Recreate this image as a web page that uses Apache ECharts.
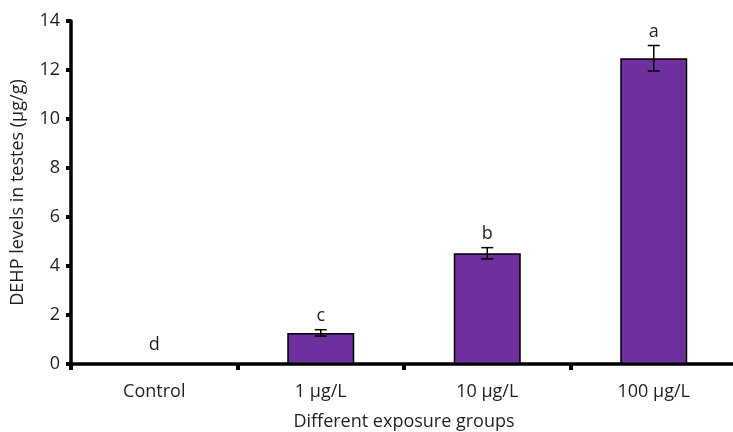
<!DOCTYPE html>
<html><head><meta charset="utf-8">
<script src="https://cdn.jsdelivr.net/npm/echarts@6/dist/echarts.min.js"></script>
<style>html,body{margin:0;padding:0;background:#fff}#c{width:733px;height:432px}</style>
</head><body><div id="c"></div>
<script>
var categories = ['Control', '1 µg/L', '10 µg/L', '100 µg/L'];
var means = [0, 1.27, 4.52, 12.48];
var errors = [0, 0.13, 0.23, 0.52];
var letters = ['d', 'c', 'b', 'a'];
var yTicks = {min: 0, max: 14, interval: 2};

var chart = echarts.init(document.getElementById('c'));
var font = '"Open Sans", "Noto Sans", sans-serif';
var fs = 18;
chart.setOption({
  animation: false,
  grid: {left: 71, top: 21, width: 666, height: 343, outerBoundsMode: 'none', containLabel: false},
  xAxis: {
    type: 'category', data: categories,
    name: 'Different exposure groups', nameLocation: 'middle', nameGap: 49,
    nameTextStyle: {color: '#231f20', fontSize: fs, fontFamily: font},
    axisLine: {lineStyle: {color: '#000', width: 3.5}},
    axisTick: {show: true, length: 6, lineStyle: {color: '#000', width: 4}},
    axisLabel: {color: '#231f20', fontSize: fs, fontFamily: font, margin: 19}
  },
  yAxis: {
    type: 'value', min: yTicks.min, max: yTicks.max, interval: yTicks.interval,
    name: 'DEHP levels in testes (µg/g)', nameLocation: 'middle', nameGap: 44,
    nameTextStyle: {color: '#231f20', fontSize: fs, fontFamily: font},
    splitLine: {show: false},
    axisLine: {show: true, lineStyle: {color: '#000', width: 3.5}},
    axisTick: {show: true, length: 5, lineStyle: {color: '#000', width: 4}},
    axisLabel: {color: '#231f20', fontSize: fs, fontFamily: font, margin: 11}
  },
  series: [{
    type: 'bar', data: means, barWidth: 67,
    itemStyle: {color: '#6f2f9c', borderColor: '#000', borderWidth: 1.5}
  }, {
    type: 'custom', z: 5,
    data: means.map(function (m, i) { return [i, m, errors[i]]; }),
    renderItem: function (params, api) {
      var i = api.value(0), m = api.value(1), e = api.value(2);
      var top = api.coord([i, m + e]);
      var bot = api.coord([i, m - e]);
      var half = 6;
      var children = [];
      if (e > 0) {
        children.push(
          {type: 'line', shape: {x1: top[0], y1: top[1], x2: bot[0], y2: bot[1]}, style: {stroke: '#000', lineWidth: 1.5}},
          {type: 'line', shape: {x1: top[0] - half, y1: top[1], x2: top[0] + half, y2: top[1]}, style: {stroke: '#000', lineWidth: 1.5}},
          {type: 'line', shape: {x1: bot[0] - half, y1: bot[1], x2: bot[0] + half, y2: bot[1]}, style: {stroke: '#000', lineWidth: 1.5}}
        );
      }
      children.push({type: 'text', style: {text: letters[params.dataIndex], x: top[0], y: top[1] - (e > 0 ? 14 : 19),
        align: 'center', verticalAlign: 'middle', fill: '#231f20', fontSize: fs, fontFamily: font}});
      return {type: 'group', children: children};
    }
  }]
});
</script></body></html>
